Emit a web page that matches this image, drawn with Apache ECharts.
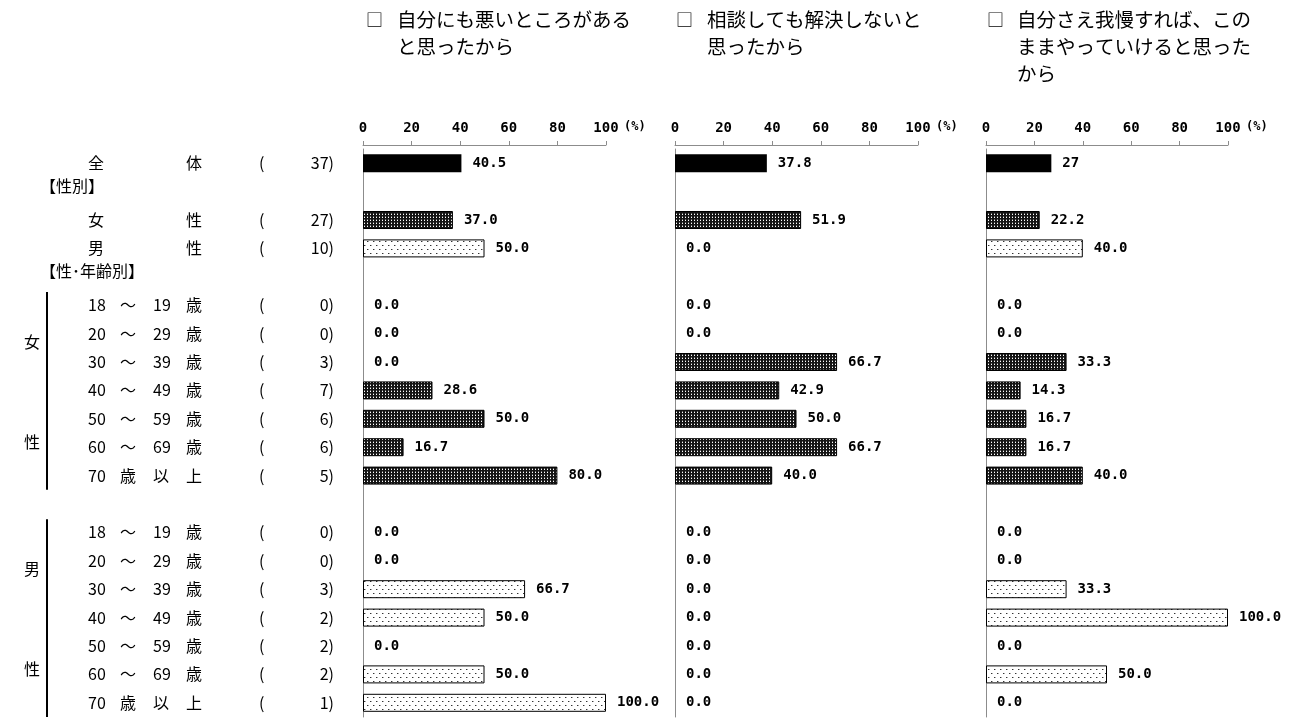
<!DOCTYPE html>
<html>
<head>
<meta charset="utf-8">
<script src="https://cdn.jsdelivr.net/npm/echarts@6/dist/echarts.min.js"></script>
<style>
html,body{margin:0;padding:0;background:#fff;}
#chart{width:1290px;height:719px;}
</style>
</head>
<body>
<div id="chart"></div>
<script>
// ---- data ----
const categories = ['全体','【性別】','女性','男性','【性･年齢別】',
  '女性18～19歳','女性20～29歳','女性30～39歳','女性40～49歳','女性50～59歳','女性60～69歳','女性70歳以上',
  ' ',
  '男性18～19歳','男性20～29歳','男性30～39歳','男性40～49歳','男性50～59歳','男性60～69歳','男性70歳以上'];
const rowGroups = ['total','header','female','male','header',
  'female','female','female','female','female','female','female',
  'blank',
  'male','male','male','male','male','male','male'];
const rowLabels = [
  ['全','','','体'], '【性別】', ['女','','','性'], ['男','','','性'], '【性･年齢別】',
  ['18','～','19','歳'], ['20','～','29','歳'], ['30','～','39','歳'], ['40','～','49','歳'],
  ['50','～','59','歳'], ['60','～','69','歳'], ['70','歳','以','上'],
  '',
  ['18','～','19','歳'], ['20','～','29','歳'], ['30','～','39','歳'], ['40','～','49','歳'],
  ['50','～','59','歳'], ['60','～','69','歳'], ['70','歳','以','上']
];
const sampleSizes = [37,null,27,10,null, 0,0,3,7,6,6,5, null, 0,0,3,2,2,2,1];
const series1 = [40.5,null,37.0,50.0,null, 0.0,0.0,0.0,28.6,50.0,16.7,80.0, null, 0.0,0.0,66.7,50.0,0.0,50.0,100.0];
const series2 = [37.8,null,51.9,0.0,null, 0.0,0.0,66.7,42.9,50.0,66.7,40.0, null, 0.0,0.0,0.0,0.0,0.0,0.0,0.0];
const series3 = [27,null,22.2,40.0,null, 0.0,0.0,33.3,14.3,16.7,16.7,40.0, null, 0.0,0.0,33.3,100.0,0.0,50.0,0.0];
const seriesValues = [series1, series2, series3];
// label shown without decimals (panel 3, overall row shows "27")
const integerLabels = [[], [], [0]];
const headers = [
  '自分にも悪いところがある\nと思ったから',
  '相談しても解決しないと\n思ったから',
  '自分さえ我慢すれば、この\nままやっていけると思った\nから'
];
const unitLabel = '(%)';
const groupSideLabels = { female: ['女','性'], male: ['男','性'] };

// ---- patterns ----
function makeTile(w, h, bg, dots) {
  const c = document.createElement('canvas');
  c.width = w; c.height = h;
  const ctx = c.getContext('2d');
  ctx.fillStyle = bg; ctx.fillRect(0, 0, w, h);
  dots.forEach(d => { ctx.fillStyle = d[2]; ctx.fillRect(d[0], d[1], 1, 1); });
  return c;
}
const femaleTile = makeTile(3, 3, '#151515', [[1,1,'#ffffff'],[1,0,'#6a6a6a']]);
const maleTile = makeTile(6, 8, '#ffffff', [[1,1,'#333333'],[4,5,'#333333'],[2,1,'#aaaaaa'],[5,5,'#aaaaaa']]);
const styles = {
  total: { color: '#000000', borderColor: '#000', borderWidth: 0 },
  female: { color: { image: femaleTile, repeat: 'repeat' }, borderColor: '#000', borderWidth: 1 },
  male: { color: { image: maleTile, repeat: 'repeat' }, borderColor: '#000', borderWidth: 1 }
};

// ---- layout ----
const grids = [
  { left: 363, width: 243 },
  { left: 675, width: 243 },
  { left: 986, width: 242 }
];
const gridTop = 149, gridBottom = 2;
const monoFont = '"DejaVu Sans Mono", "Liberation Mono", monospace';
const cjkFont = '"Noto Sans CJK JP", "Noto Sans", sans-serif';

const chart = echarts.init(document.getElementById('chart'), null, { renderer: 'canvas' });

function leftLabel(value, idx) {
  const r = rowLabels[idx];
  if (r === '' || r === undefined) return '';
  if (typeof r === 'string') return '{h|' + r + '}';
  const s = x => (x === '' ? ' ' : x);
  return '{g| }{c1|' + s(r[0]) + '}{c2|' + s(r[1]) + '}{c3|' + s(r[2]) + '}{c4|' + s(r[3]) +
    '}{p|(}{n|' + sampleSizes[idx] + ')}';
}
const labelRichBase = { fontFamily: cjkFont, fontSize: 16, color: '#000' };
const rich = {
  g: Object.assign({ width: 48, align: 'left' }, labelRichBase),
  c1: Object.assign({ width: 32, align: 'left' }, labelRichBase),
  c2: Object.assign({ width: 33, align: 'left' }, labelRichBase),
  c3: Object.assign({ width: 33, align: 'left' }, labelRichBase),
  c4: Object.assign({ width: 73, align: 'left' }, labelRichBase),
  p: Object.assign({ width: 20, align: 'left' }, labelRichBase),
  n: Object.assign({ width: 55, align: 'right' }, labelRichBase),
  h: Object.assign({ width: 294, align: 'left', padding: [0, 0, 12, 0] }, labelRichBase)
};

const option = {
  animation: false,
  backgroundColor: '#fff',
  title: [],
  grid: grids.map(g => ({ left: g.left, width: g.width, top: gridTop, bottom: gridBottom, containLabel: false })),
  xAxis: grids.map((g, i) => ({
    type: 'value', gridIndex: i, position: 'top', offset: 4,
    min: 0, max: 100, interval: 20,
    axisLine: { show: true, lineStyle: { color: '#8c8c8c', width: 1 } },
    axisTick: { show: true, length: 4, lineStyle: { color: '#8c8c8c' } },
    splitLine: { show: false },
    axisLabel: { fontFamily: monoFont, fontWeight: 'bold', fontSize: 14, color: '#000', margin: 10 }
  })),
  yAxis: grids.map((g, i) => ({
    type: 'category', gridIndex: i, inverse: true, data: categories,
    axisLine: { show: true, lineStyle: { color: '#8c8c8c', width: 1 } },
    axisTick: { show: false },
    splitLine: { show: false },
    axisLabel: i === 0 ? { show: true, margin: 29, formatter: leftLabel, rich: rich, interval: 0 } : { show: false }
  })),
  series: seriesValues.map((vals, si) => ({
    type: 'bar', xAxisIndex: si, yAxisIndex: si,
    barWidth: 18,
    data: vals.map((v, i) => {
      if (v === null) return '-';
      const st = Object.assign({}, styles[rowGroups[i]]);
      if (v === 0) st.borderWidth = 0;
      return { value: v, itemStyle: st };
    }),
    label: {
      show: true, position: 'right', distance: 11,
      fontFamily: monoFont, fontWeight: 'bold', fontSize: 14, color: '#000',
      formatter: p => integerLabels[si].indexOf(p.dataIndex) >= 0 ? String(Math.round(p.value)) : Number(p.value).toFixed(1)
    }
  }))
};

// header titles above each panel
const boxLefts = [366, 676, 987];
const textLefts = [397, 707, 1017];
headers.forEach((h, i) => {
  option.title.push({
    text: '□', left: boxLefts[i], top: 8, padding: 0,
    textStyle: { fontFamily: cjkFont, fontSize: 17, fontWeight: 'normal', color: '#000', lineHeight: 24 }
  });
  option.title.push({
    text: h, left: textLefts[i], top: 6, padding: 0,
    textStyle: { fontFamily: cjkFont, fontSize: 19.5, fontWeight: 'normal', color: '#000', lineHeight: 27 }
  });
});

chart.setOption(option);

// side group labels (女/性, 男/性) and bracket lines, positioned through the category axis
const yOf = idx => chart.convertToPixel({ yAxisIndex: 0 }, categories[idx]);
const pitch = yOf(6) - yOf(5);
const graphics = [];
[['female', 5, 11], ['male', 13, 19]].forEach(([grp, a, b]) => {
  const top = yOf(a) - pitch / 2, bottom = yOf(b) + pitch / 2;
  graphics.push({ type: 'line', shape: { x1: 47, y1: top + 1, x2: 47, y2: bottom }, style: { stroke: '#000', lineWidth: 2 } });
  const labs = groupSideLabels[grp];
  graphics.push({ type: 'text', style: { text: labs[0], x: 32, y: yOf(a + 1) + 0.28 * pitch, textAlign: 'center', textVerticalAlign: 'middle', font: '16px ' + cjkFont, fill: '#000' } });
  graphics.push({ type: 'text', style: { text: labs[1], x: 32, y: yOf(b - 1) - 0.2 * pitch, textAlign: 'center', textVerticalAlign: 'middle', font: '16px ' + cjkFont, fill: '#000' } });
});
// unit label "(%)" placed after the 100 tick of each top axis, on the tick-label line
grids.forEach((g, i) => {
  const xEnd = chart.convertToPixel({ xAxisIndex: i }, 100);
  graphics.push({ type: 'text', style: { text: unitLabel, x: xEnd + 18, y: gridTop - 22, textAlign: 'left', textVerticalAlign: 'middle', font: 'bold 12px ' + monoFont, fill: '#000' } });
});
chart.setOption({ graphic: graphics });
</script>
</body>
</html>
